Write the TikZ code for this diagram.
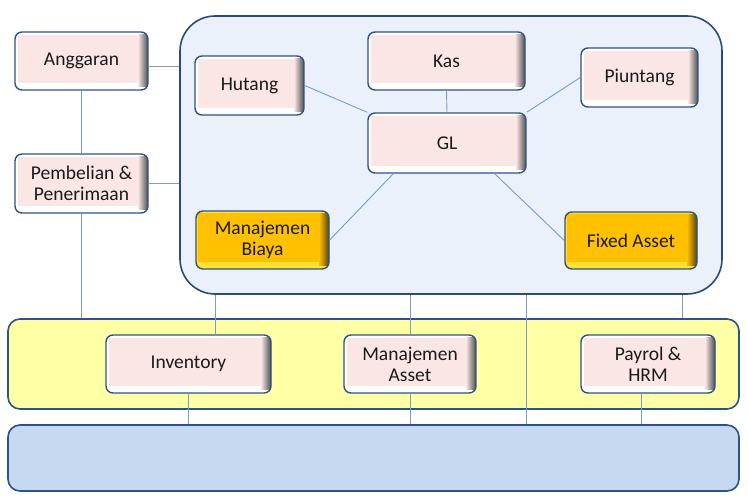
\documentclass[tikz,border=0pt]{standalone}
\usepackage{fontspec}
\setmainfont{Carlito}
\usetikzlibrary{calc}
\definecolor{boxline}{HTML}{2C5288}
\definecolor{contline}{HTML}{2A4A7A}
\definecolor{conn}{HTML}{7A9CCB}
\definecolor{boxpink}{HTML}{FAE6E4}
\definecolor{contfill}{HTML}{EAF1FB}
\definecolor{bandfill}{HTML}{FFFFA5}
\definecolor{botfill}{HTML}{C6D9F0}
\definecolor{orange}{HTML}{FFC000}
\definecolor{orangelight}{HTML}{FFE033}
\definecolor{txt}{HTML}{1A1A1A}
\tikzset{
  modbox/.style={rounded corners=7pt, draw=boxline, line width=1.4pt, fill=white,
    inner sep=0pt, align=center, text=txt,
    font=\fontsize{19.5}{21}\selectfont,
    path picture={
      \fill[boxpink, sharp corners] ([xshift=3pt,yshift=-3pt]path picture bounding box.north west) rectangle ([xshift=-8pt,yshift=7pt]path picture bounding box.south east);
      \shade[sharp corners, left color=boxpink, right color=black!70] ([xshift=-10pt,yshift=-2pt]path picture bounding box.north east) rectangle ([yshift=4pt]path picture bounding box.south east);
    }},
  orgbox/.style={rounded corners=7pt, draw=boxline, line width=1.4pt, fill=orangelight,
    inner sep=0pt, align=center, text=txt,
    font=\fontsize{19.5}{21}\selectfont,
    path picture={
      \fill[orange, sharp corners] ([xshift=2pt,yshift=-2pt]path picture bounding box.north west) rectangle ([xshift=-8pt,yshift=7pt]path picture bounding box.south east);
      \shade[sharp corners, left color=orange, right color=black!65!orange] ([xshift=-10pt,yshift=-2pt]path picture bounding box.north east) rectangle ([yshift=4pt]path picture bounding box.south east);
    }},
  link/.style={draw=conn, line width=0.9pt},
}
\begin{document}
\begin{tikzpicture}[x=1pt,y=-1pt]
\useasboundingbox (0,0) rectangle (748,504);
% large frames
\node[draw=contline, fill=contfill, line width=1.6pt, rounded corners=35pt,
      minimum width=542pt, minimum height=278pt, inner sep=0pt] (cont) at (451,155) {};
\node[draw=boxline, fill=bandfill, line width=1.6pt, rounded corners=12pt,
      minimum width=731pt, minimum height=90pt, inner sep=0pt] (band) at (373.5,364) {};
\node[draw=boxline, fill=botfill, line width=1.6pt, rounded corners=12pt,
      minimum width=731pt, minimum height=66pt, inner sep=0pt] (bot) at (373.5,458) {};
% modules
\node[modbox, minimum width=133pt, minimum height=58pt] (ang) at (81.5,61) {Anggaran};
\node[modbox, minimum width=133pt, minimum height=59pt] (pem) at (81.5,183.5) {Pembelian \&\\Penerimaan};
\node[modbox, minimum width=109pt, minimum height=59pt] (hut) at (249.5,85.5) {Hutang};
\node[modbox, minimum width=157pt, minimum height=58pt] (kas) at (446.5,61) {Kas};
\node[modbox, minimum width=158pt, minimum height=60pt] (gl) at (447,143) {GL};
\node[modbox, minimum width=117pt, minimum height=59pt] (piu) at (639.5,77.5) {Piuntang};
\node[orgbox, minimum width=133pt, minimum height=58pt] (mb) at (262.5,240) {Manajemen\\Biaya};
\node[orgbox, minimum width=132pt, minimum height=57pt] (fa) at (631,240.5) {Fixed Asset};
\node[modbox, minimum width=165pt, minimum height=58pt] (inv) at (188.5,364) {Inventory};
\node[modbox, minimum width=132pt, minimum height=58pt] (ma) at (410,364) {Manajemen\\Asset};
\node[modbox, minimum width=134pt, minimum height=58pt] (pay) at (648,364) {Payrol \&\\HRM};
% helper coordinates
\coordinate (c1) at ($(inv.north)+(26.5,0)$);
\coordinate (c2) at ($(pay.north)+(34,0)$);
\coordinate (c3) at ($(pay.south)+(-7,0)$);
\coordinate (ga) at ($(gl.south west)+(26,0)$);
\coordinate (gb) at ($(gl.south east)+(-32,0)$);
\coordinate (a1) at ($(ang.east)+(0,5)$);
% connectors
\draw[link] (a1) -- (a1 -| cont.west);
\draw[link] (ang.south) -- (pem.north);
\draw[link] (pem.east) -- (pem.east -| cont.west);
\draw[link] (pem.south) -- (pem.south |- band.north);
\draw[link] (hut.east) -- (gl.north west);
\draw[link] (kas.south) -- (gl.north);
\draw[link] (piu.west) -- (gl.north east);
\draw[link] (ga) -- (mb.east);
\draw[link] (gb) -- (fa.west);
\draw[link] (c1 |- cont.south) -- (c1);
\draw[link] (ma.north |- cont.south) -- (ma.north);
\draw[link] (gl.south east |- cont.south) -- (gl.south east |- bot.north);
\draw[link] (c2 |- cont.south) -- (c2 |- band.north);
\draw[link] (inv.south) -- (inv.south |- bot.north);
\draw[link] (ma.south) -- (ma.south |- bot.north);
\draw[link] (c3) -- (c3 |- bot.north);
\end{tikzpicture}
\end{document}
